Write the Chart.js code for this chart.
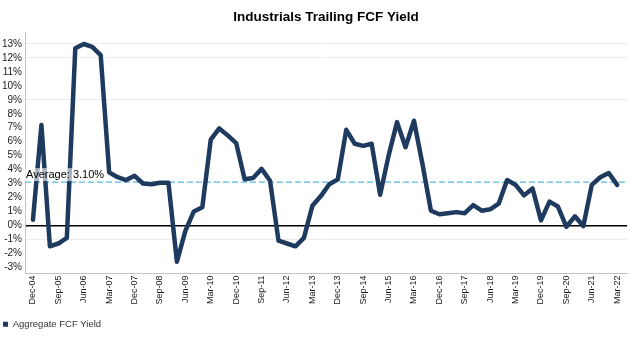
<!DOCTYPE html>
<html>
<head>
<meta charset="utf-8">
<title>Industrials Trailing FCF Yield</title>
<script src="https://cdn.jsdelivr.net/npm/chart.js@4.4.1/dist/chart.umd.min.js"></script>
<style>
    html, body { margin: 0; padding: 0; background: #fff; }
    #chartWrap { position: relative; width: 630px; height: 341px; }
</style>
</head>
<body>
<div id="chartWrap"><canvas id="chartFcfYield"></canvas></div>
<script>
// quarter ends, Dec-04 .. Mar-22
var quarters = [
    'Dec-04',
    'Mar-05', 'Jun-05', 'Sep-05', 'Dec-05',
    'Mar-06', 'Jun-06', 'Sep-06', 'Dec-06',
    'Mar-07', 'Jun-07', 'Sep-07', 'Dec-07',
    'Mar-08', 'Jun-08', 'Sep-08', 'Dec-08',
    'Mar-09', 'Jun-09', 'Sep-09', 'Dec-09',
    'Mar-10', 'Jun-10', 'Sep-10', 'Dec-10',
    'Mar-11', 'Jun-11', 'Sep-11', 'Dec-11',
    'Mar-12', 'Jun-12', 'Sep-12', 'Dec-12',
    'Mar-13', 'Jun-13', 'Sep-13', 'Dec-13',
    'Mar-14', 'Jun-14', 'Sep-14', 'Dec-14',
    'Mar-15', 'Jun-15', 'Sep-15', 'Dec-15',
    'Mar-16', 'Jun-16', 'Sep-16', 'Dec-16',
    'Mar-17', 'Jun-17', 'Sep-17', 'Dec-17',
    'Mar-18', 'Jun-18', 'Sep-18', 'Dec-18',
    'Mar-19', 'Jun-19', 'Sep-19', 'Dec-19',
    'Mar-20', 'Jun-20', 'Sep-20', 'Dec-20',
    'Mar-21', 'Jun-21', 'Sep-21', 'Dec-21',
    'Mar-22'
];

// aggregate FCF yield, %
var fcfYield = [
    0.4,
    7.2, -1.5, -1.3, -0.9,
    12.7, 13.0, 12.8, 12.2,
    3.8, 3.45, 3.25, 3.55,
    3.0, 2.95, 3.05, 3.05,
    -2.6, -0.4, 1.0, 1.3,
    6.15, 6.95, 6.45, 5.9,
    3.3, 3.4, 4.05, 3.2,
    -1.1, -1.3, -1.5, -0.9,
    1.4, 2.1, 2.95, 3.3,
    6.85, 5.85, 5.7, 5.85,
    2.2, 5.0, 7.4, 5.6,
    7.5, 4.4, 1.05, 0.8,
    0.87, 0.95, 0.87, 1.45,
    1.05, 1.15, 1.55, 3.25,
    2.9, 2.15, 2.65, 0.36,
    1.7, 1.35, -0.1, 0.65,
    -0.05, 2.9, 3.45, 3.75,
    2.9
];

var averageYield = 3.10;
var yTicks = [-3, -2, -1, 0, 1, 2, 3, 4, 5, 6, 7, 8, 9, 10, 11, 12, 13];
var faintGridAt = [13, 12, 9, -1];
var labelEvery = 3;

var fontFamily = '"Liberation Sans", Arial, sans-serif';
var navy = '#1e3a5f';

var averageLinePlugin = {
    id: 'averageLine',
    beforeDatasetsDraw: function (chart) {
        var ctx = chart.ctx;
        var area = chart.chartArea;
        var y = chart.scales.y.getPixelForValue(averageYield);
        ctx.save();
        ctx.strokeStyle = '#5bb8e6';
        ctx.lineWidth = 1.3;
        ctx.setLineDash([6, 3]);
        ctx.beginPath();
        ctx.moveTo(area.left, y);
        ctx.lineTo(area.right, y);
        ctx.stroke();
        ctx.restore();
    },
    afterDatasetsDraw: function (chart) {
        // label on a washed out box, above the dashed line
        var ctx = chart.ctx;
        var area = chart.chartArea;
        var y = chart.scales.y.getPixelForValue(averageYield);
        var text = 'Average: ' + averageYield.toFixed(2) + '%';
        ctx.save();
        ctx.font = '11px ' + fontFamily;
        var w = ctx.measureText(text).width;
        ctx.fillStyle = 'rgba(255,255,255,0.6)';
        ctx.fillRect(area.left, y - 14, w + 2, 13);
        ctx.fillStyle = '#000';
        ctx.textBaseline = 'middle';
        ctx.fillText(text, area.left + 1, y - 7);
        ctx.restore();
    }
};

// title centred over the plot area, not the canvas
var plotTitlePlugin = {
    id: 'plotTitle',
    afterDraw: function (chart) {
        var ctx = chart.ctx;
        var area = chart.chartArea;
        ctx.save();
        ctx.font = 'bold 13.5px ' + fontFamily;
        ctx.fillStyle = '#000';
        ctx.textAlign = 'center';
        ctx.textBaseline = 'middle';
        ctx.fillText('Industrials Trailing FCF Yield', (area.left + area.right) / 2, 17);
        ctx.restore();
    }
};

function BindFcfChart() {
    var points = fcfYield.map(function (v, i) { return { x: i, y: v }; });
    var chartEl = document.getElementById('chartFcfYield');

    new Chart(chartEl, {
        type: 'line',
        data: {
            datasets: [{
                label: 'Aggregate FCF Yield',
                data: points,
                borderColor: navy,
                backgroundColor: navy,
                borderWidth: 4.5,
                borderJoinStyle: 'round',
                borderCapStyle: 'round',
                pointRadius: 0,
                tension: 0,
                fill: false
            }]
        },
        options: {
            responsive: true,
            maintainAspectRatio: false,
            animation: false,
            layout: {
                padding: { top: 32, bottom: 2, left: 0, right: 0 }
            },
            scales: {
                x: {
                    type: 'linear',
                    bounds: 'data',
                    min: -0.94,
                    max: 70.17,
                    afterBuildTicks: function (scale) {
                        var t = [];
                        for (var i = 0; i < quarters.length; i += labelEvery) {
                            t.push({ value: i });
                        }
                        scale.ticks = t;
                    },
                    afterFit: function (scale) {
                        scale.height = 43;
                    },
                    grid: { display: false, drawTicks: false },
                    border: { display: true, color: '#c4c4c4', width: 1 },
                    ticks: {
                        autoSkip: false,
                        minRotation: 90,
                        maxRotation: 90,
                        padding: 2,
                        color: '#1a1a1a',
                        font: { family: fontFamily, size: 9 },
                        callback: function (value) {
                            return quarters[value];
                        }
                    }
                },
                y: {
                    bounds: 'data',
                    min: -3.45,
                    max: 13.86,
                    afterBuildTicks: function (scale) {
                        scale.ticks = yTicks.map(function (v) { return { value: v }; });
                    },
                    afterFit: function (scale) {
                        scale.width = 25;
                    },
                    grid: {
                        drawTicks: false,
                        color: function (c) {
                            if (!c.tick) return 'rgba(0,0,0,0)';
                            if (c.tick.value === 0) return '#000';
                            if (faintGridAt.indexOf(c.tick.value) > -1) return '#ececec';
                            return 'rgba(0,0,0,0)';
                        },
                        lineWidth: function (c) {
                            return (c.tick && c.tick.value === 0) ? 1.5 : 1;
                        }
                    },
                    border: { display: true, color: '#c4c4c4', width: 1 },
                    ticks: {
                        padding: 3,
                        color: '#1a1a1a',
                        font: { family: fontFamily, size: 10 },
                        callback: function (value) {
                            return value + '%';
                        }
                    }
                }
            },
            plugins: {
                title: { display: false },
                tooltip: { enabled: false },
                legend: {
                    display: true,
                    position: 'bottom',
                    align: 'start',
                    labels: {
                        usePointStyle: true,
                        pointStyle: 'rect',
                        boxWidth: 5,
                        boxHeight: 5,
                        padding: 3,
                        color: '#333',
                        font: { family: fontFamily, size: 9.5 },
                        generateLabels: function (chart) {
                            var items = Chart.defaults.plugins.legend.labels.generateLabels(chart);
                            items.forEach(function (it) {
                                it.lineWidth = 0;
                                it.pointStyle = 'rect';
                            });
                            return items;
                        }
                    }
                }
            }
        },
        plugins: [averageLinePlugin, plotTitlePlugin]
    });
}

BindFcfChart();
</script>
</body>
</html>
